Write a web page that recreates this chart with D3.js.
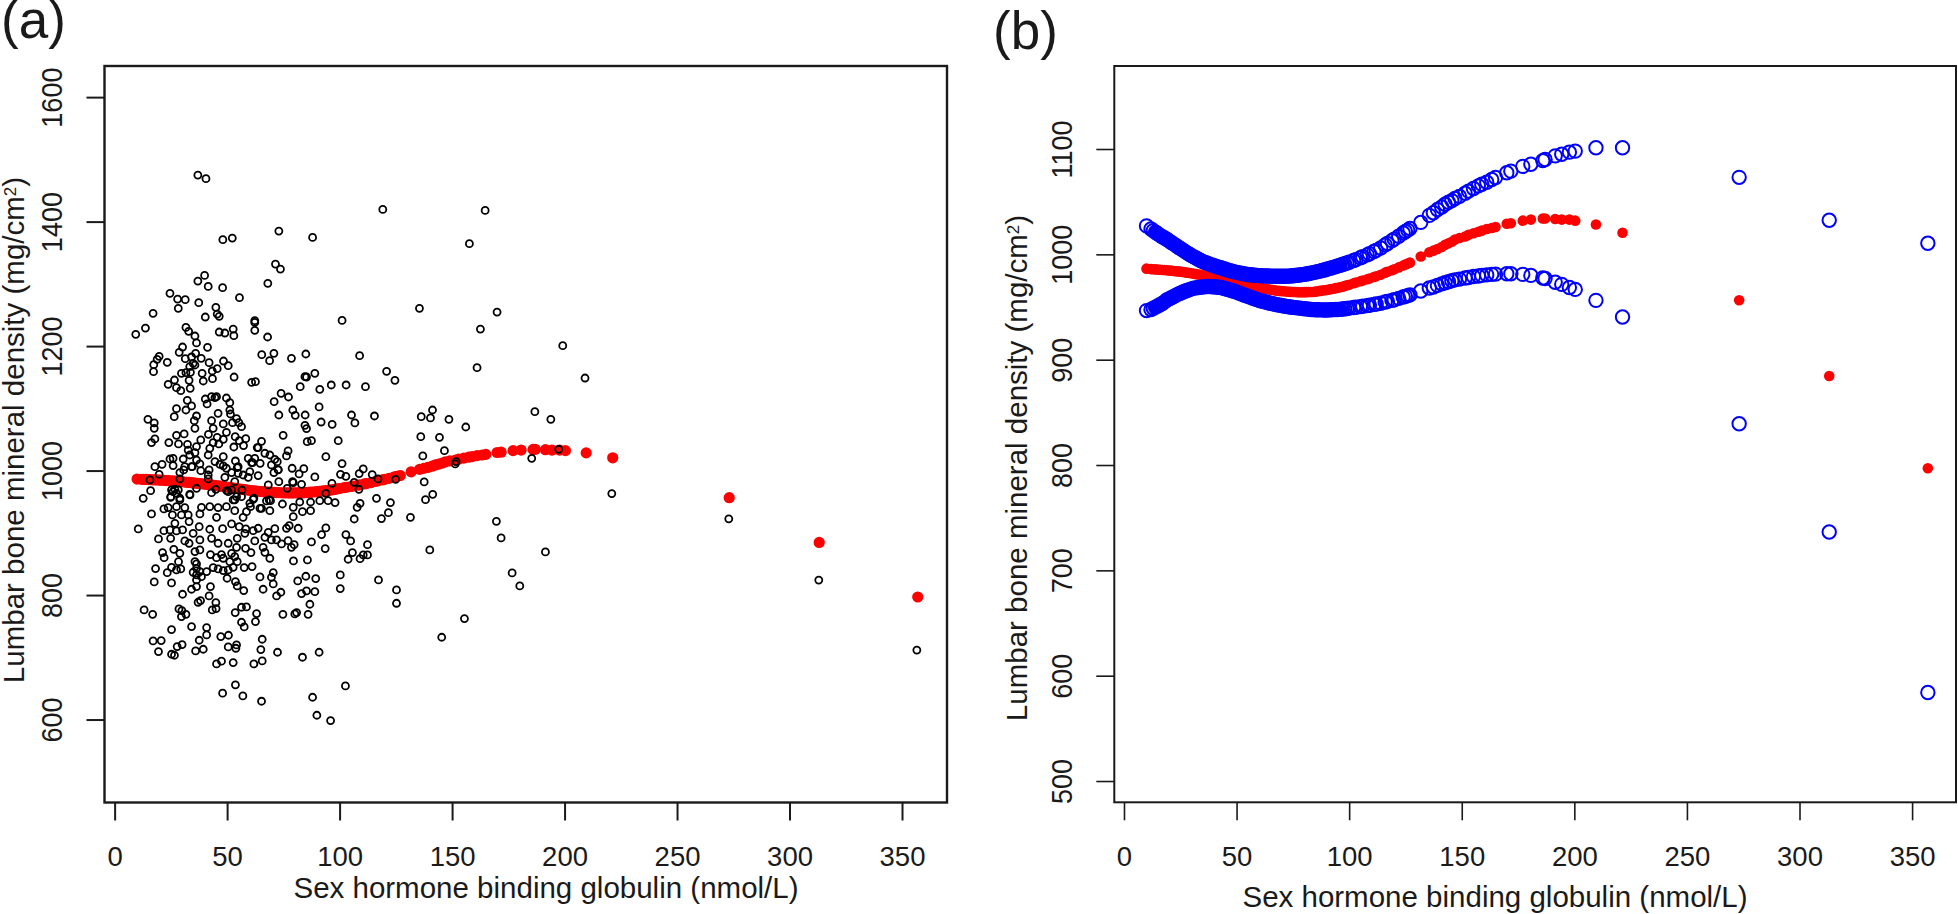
<!DOCTYPE html>
<html>
<head>
<meta charset="utf-8">
<script src="https://cdn.jsdelivr.net/npm/d3@7"></script>
<style>
  body { margin: 0; background: #fff; }
  text { font-family: "Liberation Sans", Arial, sans-serif; fill: #1a1a1a; }
</style>
</head>
<body>
<svg></svg>
<script>
const width = 1958;
const height = 914;

// SHBG sites of the fitted curve (same sites in both panels)
const fitX = [10,12,13,14,15,16,17,18,19,20,21,22,23,24,25,26,27,28,29,30,31,32,33,34,35,36,37,38,39,40,
  41,42,43,44,45,46,47,48,49,50,51,52,53,54,55,56,57,58,59,60,61,62,63,64,65,66,67,68,69,70,
  71,72,73,74,75,76,77,78,79,80,81,82,83,84,85,86,87,88,89,90,91,92,93,94,95,96,97,98,99,100,
  102,103,105,106,108,109,111,112,114,116,117,119,120,122,124,125,126,127,
  131.8,135.6,137.4,139.2,141.1,142.6,144.1,145.6,147,149,151.5,153,155.2,157.4,158.9,161.1,163.3,165,
  170,171.8,177.1,180.7,186,187,191.5,194.4,197.8,200.4,209.6,221.4,273.2,313.2,357];

const fitMid = [986.4,986,985.8,985.7,985.5,985.4,985.2,985.1,984.9,984.7,984.5,984.2,984,983.8,983.6,983.3,983,982.6,982.3,982,
  981.6,981.2,980.9,980.5,980.1,979.7,979.4,979,978.6,978.2,
  977.7,977.3,976.9,976.4,975.9,975.4,974.9,974.4,973.9,973.4,972.9,972.3,971.8,971.3,970.8,970.3,969.8,969.3,968.8,968.3,
  967.9,967.5,967.2,966.8,966.4,966.1,965.8,965.5,965.3,965.1,
  964.9,964.7,964.5,964.4,964.3,964.2,964.1,964,964,964.1,964.1,964.2,964.2,964.3,964.6,964.9,965.3,965.6,965.9,966.2,
  966.6,967,967.4,967.9,968.3,968.7,969.3,969.9,970.6,971.2,
  972.6,973.2,974.4,975.1,976.4,977.1,978.5,979.2,980.6,982.6,983.4,984.9,985.8,987.6,989.4,990.3,991.2,992.1,
  998,1002,1003.5,1005,1007,1009,1010.5,1012,1014,1015.5,1017,1018.5,1020,1021.5,1022.5,1024,1025,1026,
  1029,1029.5,1032,1033,1034,1034,1033.5,1033,1033,1032,1028.4,1020.5,956.4,884.5,796.9];

const fitUpper = [1027,1024,1022.5,1021,1019.5,1018,1016.7,1015.5,1014.3,1012.8,1011.3,1009.9,1008.5,1007,1005.6,1004.2,1002.8,1001.4,1000.1,998.8,
  997.6,996.5,995.4,994.2,993.1,992.2,991.5,990.7,989.9,989.2,
  988.5,987.8,987.2,986.5,985.8,985.1,984.5,983.9,983.4,982.9,982.4,982,981.6,981.2,980.9,980.6,980.4,980.2,980,979.8,
  979.7,979.6,979.5,979.4,979.3,979.2,979.2,979.2,979.2,979.2,
  979.2,979.2,979.3,979.5,979.7,979.9,980.1,980.4,980.7,981,981.4,981.8,982.2,982.6,983.1,983.6,984.1,984.7,985.2,985.8,
  986.4,987,987.6,988.3,989,989.6,990.3,991,991.8,992.5,
  994.1,995,996.8,997.7,999.5,1000.6,1002.7,1003.8,1006,1009,1010.3,1013,1014.4,1017.2,1020.2,1021.7,1023,1024.5,
  1030.3,1037,1039.5,1042.5,1045,1047.5,1049.5,1051,1053,1055,1058,1060,1062.5,1065,1066.5,1068.5,1071,1073,
  1077.5,1079,1083.5,1085.5,1089,1090,1093.5,1095,1097,1098,1101.2,1101.2,1073.1,1032.3,1010.5];

const fitLower = [946.6,947.6,948.8,949.9,951,952.1,953.3,954.9,956.7,957.7,958.8,959.9,961,962.2,963.1,964,964.9,965.7,966.5,967.2,
  967.9,968.2,968.5,968.8,969.1,969.3,969.4,969.4,969.3,969.2,
  969,968.8,968.5,968,967.4,966.8,966.2,965.5,964.9,964.1,963.3,962.5,961.7,960.9,960.1,959.4,958.6,957.9,957.1,956.3,
  955.7,955.2,954.7,954.1,953.6,953.1,952.7,952.2,951.8,951.4,
  951,950.6,950.3,950,949.7,949.4,949.2,948.9,948.7,948.4,948.2,948,947.7,947.5,947.4,947.4,947.3,947.3,947.2,947.2,
  947.3,947.4,947.5,947.6,947.7,947.8,948.1,948.4,948.6,948.9,
  949.5,949.8,950.4,950.7,951.3,951.7,952.5,952.9,953.6,954.7,955.3,956.3,956.9,958.2,959.5,960.1,960.8,961.5,
  965.2,968,969,970.5,972,973,974,975,975.8,976.5,977.5,978,979,979.5,980,980.5,981,981.2,
  981.6,981.6,981,980,977.5,977,973.5,971.5,968.5,966.7,956.3,940.5,839.2,736.4,584];

// raw observations of panel (a), [SHBG, BMD]
const scatterPoints = [
  [37,1474.8],[40.6,1468.9],[119.2,1419.6],[164.7,1418],[73,1384.8],[48.1,1370.9],[52.3,1373.6],[88,1374.6],[157.7,1364.5],
  [71.5,1331.8],[73.7,1323.8],[68.1,1300.8],[40,1313.6],[37,1304.5],[41.6,1295.9],[48,1293.8],[24.6,1284.7],[28,1275.6],
  [31.4,1274.5],[37.4,1269.7],[55.5,1277.8],[28.3,1260.6],[45,1262.2],[45.6,1251.5],[46.5,1247.8],[40.3,1246.7],[17.1,1252.6],
  [135.5,1260.6],[170,1254.7],[101.1,1241.3],[62.3,1240.8],[62.3,1238],[13.7,1229],[9.4,1218.9],[162.6,1227.4],[31.7,1230],
  [32.9,1223.7],[35.7,1216.2],[46.5,1222.6],[49,1221],[52.7,1227.4],[53,1216.7],[62.3,1225.3],[68,1214.6],[36.4,1205],[41.3,1198],
  [30.2,1198.5],[28.7,1190],[36,1188.3],[31.4,1179.8],[34.2,1182.5],[38.5,1180.3],[19.8,1183.5],[18.9,1178.7],[17.4,1170.2],
  [23.4,1173.9],[17.3,1158.9],[34.9,1172.3],[33.4,1167],[42,1173.3],[48.4,1176],[50.5,1168.5],[45.6,1163.7],[43.4,1160],[38.9,1156.2],
  [29.7,1156.2],[31.7,1157.3],[33.7,1157.8],[35.7,1169.6],[39.4,1143.9],[43.5,1147.7],[53.1,1150.3],[33.1,1145],[26.6,1145.5],
  [23.8,1138.6],[27.5,1133.2],[29.4,1128.4],[33.6,1132.2],[60.9,1141.8],[62.6,1142.8],[65.4,1186.2],[68.9,1176.6],[70.8,1188.3],
  [78.6,1180.3],[85,1187.3],[108.9,1184.6],[89,1156.2],[84.6,1150.9],[85.3,1150.3],[120.9,1159.4],[124.6,1145],[161.1,1165.3],
  [82.5,1134.8],[91.2,1130.5],[96.3,1137.5],[102.9,1137.5],[111.5,1134.8],[74,1124.1],[77.3,1118.2],[70.9,1110.7],[90.9,1102.2],
  [79.2,1097.3],[80.3,1088.8],[73,1089.3],[84.7,1089.3],[105.3,1089.3],[115.5,1087.7],[141.3,1097.3],[136.3,1086.6],[140.4,1084.5],
  [148.6,1082.4],[91.8,1078],[96.7,1074.3],[106.8,1076.5],[84.6,1072.7],[85.3,1067.4],[156.1,1070],[74.9,1056.7],[136.1,1054.5],
  [144.4,1053.4],[85.6,1046.5],[87.5,1048.1],[99.4,1048.1],[146.6,1032],[137,1023.5],[93.9,1022.4],[65.3,1047],[63.4,1036.9],
  [77.1,1031.5],[76.4,1023.5],[101.1,1011.2],[78.9,1003.7],[84.1,1003.1],[82,994.6],[89,989.8],[110.5,1002.6],
  [108.7,995.1],[114.5,993.5],[100.4,994],[102.8,990.8],
  [32.3,1112.9],[40.3,1115],[43.1,1118.8],[45.3,1118.8],[44.6,1117.2],[49.7,1116.6],[51.2,1109.1],[34.2,1103.8],[41.1,1107],
  [27.5,1099.5],[31.7,1097.3],[51.2,1097.3],[51.5,1090.9],[46,1092],[26.5,1086.6],[36.4,1087.7],[35.4,1080.2],[54.2,1083.4],
  [43.1,1080.2],[14.8,1082.4],[17.6,1076.5],[17.6,1067.9],[48.3,1074.9],[52.4,1077],[55.2,1077],[56.4,1070.6],[43.8,1067.9],
  [35.7,1067.9],[49.7,1061.5],[30.9,1058.8],[27.5,1056.7],[41.7,1058.3],[45.6,1053.4],[53.6,1054.5],[58.3,1051.3],[17.9,1050.8],
  [16.4,1044.9],[24.1,1044.9],[28.4,1042.8],[38.3,1049.2],[43.8,1044.9],[48.3,1050.2],[55.4,1048.1],[32.4,1042.2],[36.4,1038.5],
  [42.3,1035.8],[46.3,1042.8],[53,1037.9],[57.3,1040.1],[63.8,1036.9],[32.7,1033],[35.7,1028.8],[41.6,1025],[66.8,1027.8],[69,1025],
  [48.3,1022.4],[59.4,1019.7],[62.3,1019.7],[26,1019.7],[24.6,1018.6],[30.5,1018.6],[36.4,1017],[33.4,1025],[71.2,1018],[72.3,1014.3],
  [53.7,1015.4],[60.9,1012.8],[64.7,1011.7],[21.1,1010.1],[17.9,1006.3],[26,1008],[34.5,1006.3],[37.9,1010.6],[44.6,1014.4],
  [46.8,1010.1],[54.5,1004.7],[69.7,1009.1],[72.7,1001],[70.8,996.7],[38.3,999.9],[42,1001],[48.3,1007.4],[49.7,1003.7],[60.1,998.3],
  [52,996.7],[30.7,1001],[19.8,994],[29,996.7],[63.8,991.9],[54.9,995.6],[57.1,992.9],[41.6,992.9],[49,989.2],[31.2,1006.3],
  [15.7,984.9],[29,986.5],[41.6,986.5],[53.4,982.2],[68.3,976.9],[76.7,971.5],[56.6,968.8],[36.4,971.5],[45,969.9],[93.9,963.5],
  [106.5,981.1],[108.6,969.9],[117.1,986.5],[124.9,986],[79.4,980.6],[83.1,977.9],[96.6,979.5],
  [16,967.7],[12.7,955.4],[16.4,930.3],[26,966.1],[27.5,963.5],[25,958.1],[33.4,961.9],[43.1,964.5],[50.5,966.1],[56.4,958.1],
  [29,952.8],[53.4,952.8],[61.6,953.8],[60.1,947.4],[67.5,951.2],[69.3,951.7],[74.6,946.3],[82.3,949.5],[87.1,949.5],[91.2,951.7],
  [94.9,951.7],[98,948.5],[116.4,955.4],[122.6,948.5],[109.1,947.4],[107.8,941],[121.7,932.4],[118.6,922.8],[106.5,922.2],[131.5,924.9],
  [137.6,981.7],[141.4,961.9],[138.2,953.3],[140.1,872.5],[79.4,941],[83.5,934],[87.1,935.6],[79.4,926],[21.9,938.3],[23.8,940.4],
  [31.2,940.4],[27.5,942],[38.6,941],[42.3,942],[46,940.4],[49.7,942],[53.4,935.6],[58.6,934],[60.4,942],[64.6,939.4],[69,935.6],
  [25.7,928.7],[29.7,928.7],[32.7,928.7],[37.9,930.3],[45.3,924.9],[57.1,924.9],[33.1,918],[26.8,915.3],[52,914.2],[34.9,899.2],
  [37.6,909.9],[10.5,906.2],[21.9,903.5],[24.6,904.6],[27.5,903],[30.2,904.6],[42.3,905.7],[48,906.7],[55.4,909.9],[58.3,906.2],
  [61.6,903.5],[63.8,907.3],[71.2,906.7],[68.3,900.8],[76.4,907.3],[77.6,911.5],[81.6,907.3],[93.9,907.8],[92,897.1],[102.8,897.1],
  [104.9,886.9],[112.4,881],[19.5,890.1],[24.9,891.2],[31.2,886.9],[33.1,883.2],[37.9,888.5],[43.1,891.2],[46,883.2],[50.5,883.2],
  [54.5,891.2],[57.9,899.2],[62.3,886.9],[66.8,892.8],[69.7,888.5],[72,888.5],[74.2,882.1],[77.1,887.4],[79.8,881],[78.6,876.7],
  [87.5,885.3],[93.6,874.6],[26.3,873.5],[29,867.1],[35.7,869.8],[37.9,872.5],[58.2,875.1],[66,876.7],[66.8,868.7],[60.6,868.2],
  [54.2,876.7],[21.3,868.2],[22,860.1],[42.6,865],[47.5,865],[45.3,860.1],[52,867.1],[53.4,861.8],[69,859.1],[105.7,868.2],[103.8,857.5],
  [109.1,858.5],[110.5,864.4],[112.4,864.4],[28.4,853.7],[35.7,853.7],[36.4,850],[48.3,859.1],[51.2,853.7],[54.5,853.7],[79.5,854.8],
  [85.7,856.4],[18.2,842.5],[25.3,844.6],[27.5,840.3],[29.4,841.9],[23.4,836],[34.9,836.6],[36.4,843],[37.9,837.7],[40.9,837.7],
  [43.8,844.1],[46,841.9],[48.3,839.3],[50.5,840.3],[52.7,844.6],[57.6,844.1],[61.1,845.7],[36.4,832.3],[38.6,829.6],[36.4,824.3],
  [50,827],[64.6,829.1],[70.5,836],[69.7,828.6],[70.5,817.9],[85,830.2],[81.4,822.7],[89.4,826.4],[100.3,832.3],[117.3,824.3],
  [17.6,821.1],[25.3,819.5],[53.7,821.6],[54.5,814.6],[42.6,813.6],[34.2,809.3],[36.4,813.6],[57.4,807.2],[66,809.3],[100.3,810.4],
  [125.3,808.2],[73.9,804.5],[83.1,802.3],[85.3,806.6],[89,805.5],[72,798.6],[30.2,801.3],[42,798.6],[45,787.9],[38.2,791.1],[37.1,788.4],
  [125.3,786.8],[86.8,785.2],[13.1,776.1],[16.9,769.1],[28.6,777.7],[29.9,775],[31.7,769.1],[29.7,765.4],[43.4,776.1],[45.1,778.2],
  [56.4,780.4],[58.6,780.9],[53.6,771.8],[63.1,770.2],[74.8,769.1],[80.1,769.7],[80.9,771.8],[86,769.1],[155.5,762.2],[56.4,756.3],
  [62.6,757.4],[57.6,748.8],[34.2,749.3],[40.9,747.7],[25.3,744.5],[40.9,736],[37.6,727.4],[47.2,733.3],[50.6,735.4],[65.6,729],
  [17.1,726.3],[20.7,726.9],[30,720.4],[27.8,717.2],[50.5,716.7],[54.2,719.9],[53.9,714.5],[65,712.4],[19.5,709.2],[25.3,704.9],
  [26.6,703.3],[36,710.3],[39.4,712.9],[72.4,708.1],[90.9,708.1],[83.5,700.1],[47.5,693.7],[45.3,689.4],[52.7,691.5],[61.9,689.4],
  [65.6,694.2],[145.4,732.2],[53.7,655.7],[48,642.3],[57,638],[65.3,629.4],[102.6,654],[88,635.8],[89.9,606.9],[96,598.4],
  [25.3,968.9],[26.8,970],[28.3,968.9],[24.9,957],[29,955.5],[33.5,960.8],[52.7,952.8],[54.2,958.1],[61.9,955.5],[65.3,939.4],[68.7,952.8],
  [73,982.2],[79.1,982.2],[49.8,967.8],[52,968.9],[54.9,1006.3],[59.4,989.2],[72.7,1001.4],[61.3,1012.8],[34.2,1006.3],
  [199.2,1200.7],[209.1,1148.7],[186.8,1094.7],[193.9,1082.4],[151.8,1014.4],[151.4,1010.6],[197.4,1034.2],[185.4,1019.7],
  [169.7,918.5],[171.8,891.8],[191.5,869.3],[176.7,835.6],[180.1,814.7],[221,963],[273,922.5],[313,824],[356.6,711.6]
];

const xTicks = [0, 50, 100, 150, 200, 250, 300, 350];
const yTicksA = [600, 800, 1000, 1200, 1400, 1600];
const yTicksB = [500, 600, 700, 800, 900, 1000, 1100];

const xTitle = "Sex hormone binding globulin (nmol/L)";

const svg = d3.select("svg").attr("width", width).attr("height", height);

// draws frame, axes and titles of one panel
function drawPanel(p) {
  const g = svg.append("g");

  // marks first, the frame goes over them
  const marks = g.append("g");

  g.append("rect")
    .attr("x", p.x.range()[0])
    .attr("y", p.y.range()[1])
    .attr("width", p.x.range()[1] - p.x.range()[0])
    .attr("height", p.y.range()[0] - p.y.range()[1])
    .attr("fill", "none")
    .attr("stroke", "#1a1a1a")
    .attr("stroke-width", p.frameWidth);

  // Eje X
  const gx = g.append("g")
    .attr("transform", `translate(0, ${p.y.range()[0]})`)
    .call(d3.axisBottom(p.x).tickValues(xTicks).tickSize(18).tickFormat(d3.format("d")));
  gx.select(".domain").remove();
  gx.selectAll("line").attr("stroke", "#1a1a1a").attr("stroke-width", p.tickWidth);
  gx.selectAll("text")
    .attr("y", 0)
    .attr("dy", p.xLabelY - p.y.range()[0])
    .style("font-size", "27.5px");

  // Eje Y
  const gy = g.append("g")
    .attr("transform", `translate(${p.x.range()[0]}, 0)`)
    .call(d3.axisLeft(p.y).tickValues(p.yTicks).tickSize(18).tickFormat(d3.format("d")));
  gy.select(".domain").remove();
  gy.selectAll("line").attr("stroke", "#1a1a1a").attr("stroke-width", p.tickWidth);
  gy.selectAll("text")
    .attr("x", 0)
    .attr("dy", 0)
    .attr("text-anchor", "middle")
    .attr("transform", `translate(${p.yLabelX - p.x.range()[0]}, 0) rotate(-90) scale(1, 1.1)`)
    .style("font-size", "27px");

  // Etiqueta del eje X
  g.append("text")
    .attr("x", p.xTitleX)
    .attr("y", p.xTitleY)
    .attr("text-anchor", "middle")
    .style("font-size", "29.5px")
    .text(xTitle);

  // Etiqueta del eje Y
  const yt = g.append("text")
    .attr("transform", `translate(${p.yTitleX}, ${p.yTitleY}) rotate(-90)`)
    .attr("text-anchor", "middle")
    .style("font-size", "29.5px")
    .text("Lumbar bone mineral density (mg/cm");
  yt.append("tspan").attr("dy", -8).style("font-size", "17px").text("2");
  yt.append("tspan").attr("dy", 8).text(")");

  // panel letter
  g.append("text")
    .attr("x", p.letterX)
    .attr("y", p.letterY)
    .style("font-size", "53px")
    .text(p.letter);

  return marks;
}

const fitRows = fitX.map((d, i) => ({ x: d, mid: fitMid[i], upper: fitUpper[i], lower: fitLower[i] }));

// Panel (a)
const xA = d3.scaleLinear().domain([-4.5, 370]).range([104.5, 947]);
const yA = d3.scaleLinear().domain([466.7, 1650]).range([802.5, 66]);

const marksA = drawPanel({
  x: xA, y: yA, yTicks: yTicksA, frameWidth: 2.4, tickWidth: 2,
  xLabelY: 866, yLabelX: 62, xTitleX: 546, xTitleY: 898,
  yTitleX: 23.5, yTitleY: 430, letter: "(a)", letterX: 1, letterY: 38
});

marksA.selectAll(".fit")
  .data(fitRows)
  .join("circle")
  .attr("class", "fit")
  .attr("cx", d => xA(d.x))
  .attr("cy", d => yA(d.mid))
  .attr("r", 5.6)
  .attr("fill", "#ff0000");

marksA.selectAll(".obs")
  .data(scatterPoints)
  .join("circle")
  .attr("class", "obs")
  .attr("cx", d => xA(d[0]))
  .attr("cy", d => yA(d[1]))
  .attr("r", 3.5)
  .attr("fill", "none")
  .attr("stroke", "#000")
  .attr("stroke-width", 1.8);

// Panel (b)
const xB = d3.scaleLinear().domain([-4.3, 369.5]).range([1114.3, 1956]);
const yB = d3.scaleLinear().domain([479.8, 1178.8]).range([802.3, 66]);

const marksB = drawPanel({
  x: xB, y: yB, yTicks: yTicksB, frameWidth: 2, tickWidth: 1.6,
  xLabelY: 866.5, yLabelX: 1071.5, xTitleX: 1495, xTitleY: 906.5,
  yTitleX: 1026.5, yTitleY: 468, letter: "(b)", letterX: 993, letterY: 49
});

marksB.selectAll(".mid")
  .data(fitRows)
  .join("circle")
  .attr("class", "mid")
  .attr("cx", d => xB(d.x))
  .attr("cy", d => yB(d.mid))
  .attr("r", 5.3)
  .attr("fill", "#ff0000");

// the real sites are far denser between 14 and 96, rings close up into a solid band there
["upper", "lower"].forEach(key => {
  marksB.selectAll(`.${key}`)
    .data(fitRows)
    .join("circle")
    .attr("class", key)
    .attr("cx", d => xB(d.x))
    .attr("cy", d => yB(d[key]))
    .attr("r", 6.7)
    .attr("fill", d => (d.x >= 14 && d.x <= 96 ? "#0000ff" : "none"))
    .attr("stroke", "#0000ff")
    .attr("stroke-width", 2);
});
</script>
</body>
</html>
